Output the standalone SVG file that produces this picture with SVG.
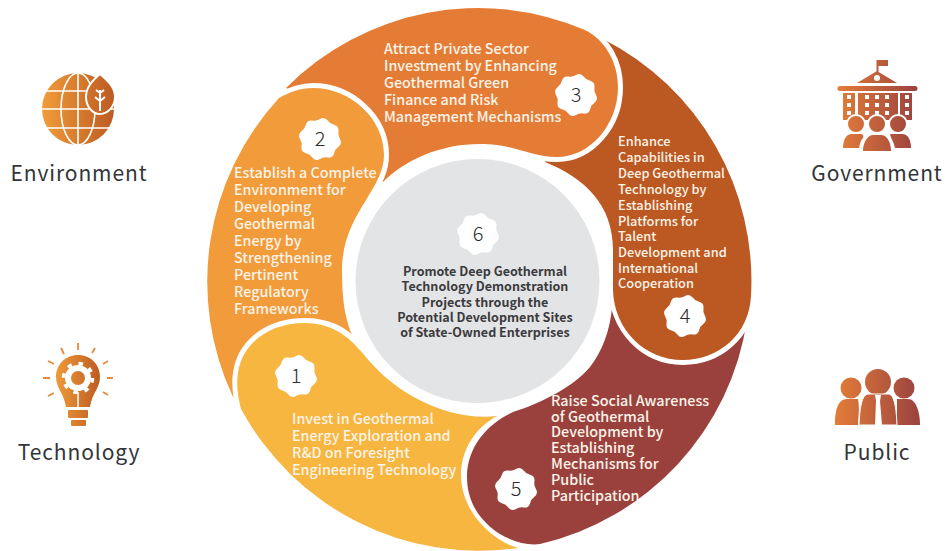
<svg xmlns="http://www.w3.org/2000/svg" width="947" height="551" viewBox="0 0 947 551">
<style>
text{font-family:"Noto Sans CJK SC","Noto Sans",sans-serif}
.t{fill:#fdf3e7;font-size:14.3px;font-weight:500}
.s{font-size:12.8px}
.m{font-size:14.35px}
.c{fill:#3b3b3d;font-size:12.55px;font-weight:700;text-anchor:middle}
.n{fill:#2b2b2b;font-size:20px;font-weight:300;text-anchor:middle}
.l{fill:#333538;font-size:21px;letter-spacing:.9px;text-anchor:middle}
.gap{fill:none;stroke:#fff;stroke-width:10}
.w{fill:none;stroke:#fff;stroke-width:1.6}
.b{fill:#fff}
</style>
<defs>
<path id="star" fill="#fff" d="M20,0Q22.56,4.49 18.48,7.65Q14.97,10 14.14,14.14Q12.78,19.12 7.65,18.48Q3.51,17.65 0,20Q-4.49,22.56 -7.65,18.48Q-10,14.97 -14.14,14.14Q-19.12,12.78 -18.48,7.65Q-17.65,3.51 -20,0Q-22.56,-4.49 -18.48,-7.65Q-14.97,-10 -14.14,-14.14Q-12.78,-19.12 -7.65,-18.48Q-3.51,-17.65 0,-20Q4.49,-22.56 7.65,-18.48Q10,-14.97 14.14,-14.14Q19.12,-12.78 18.48,-7.65Q17.65,-3.51 20,0Z"/>
<linearGradient id="gEnv" gradientUnits="userSpaceOnUse" x1="42" y1="0" x2="115" y2="0"><stop offset="0" stop-color="#F09C3A"/><stop offset="1" stop-color="#BC5A22"/></linearGradient>
<linearGradient id="gTech" gradientUnits="userSpaceOnUse" x1="55" y1="0" x2="101" y2="0"><stop offset="0" stop-color="#F09C3A"/><stop offset="1" stop-color="#BC5A22"/></linearGradient>
<linearGradient id="gGov" gradientUnits="userSpaceOnUse" x1="838" y1="0" x2="917" y2="0"><stop offset="0" stop-color="#E47D38"/><stop offset="1" stop-color="#9A4240"/></linearGradient>
<linearGradient id="gPub" gradientUnits="userSpaceOnUse" x1="835" y1="0" x2="920" y2="0"><stop offset="0" stop-color="#E47D38"/><stop offset="1" stop-color="#9A4240"/></linearGradient>
</defs>

<g id="seg5">
<path fill="#9A413E" d="M540,544C515,548 467,525 467,477C467,445 490,422 513,412C545,402 575,385 590,367C602,352 610,330 612,308L680,340L747,320A271,271 0 0 1 540,544Z"/>
</g>
<g id="seg4">
<path class="gap" d="M751,296C749,335 718,360 683,360C645,360 614,330 613,285"/>
<path fill="#BC5822" d="M603,39A271,271 0 0 1 751,296C749,335 718,360 683,360C645,360 614,330 613,290L613,250C613,205 585,178 545,162L570,100Z"/>
</g>
<g id="seg3">
<path class="gap" d="M585,30C605,40 618,62 618,87C618,125 590,157 557,157C535,157 522,150 505,147"/>
<path fill="#E57C36" d="M286,88A271,271 0 0 1 585,30C605,40 618,62 618,87C618,125 590,157 557,157C530,157 515,144 480,144C440,144 405,160 383,182L360,130Z"/>
</g>
<g id="seg2">
<path class="gap" d="M279,98C290,92 300,88 313,88C350,88 384,118 384,155C384,170 378,182 367,197"/>
<path fill="#F29B3A" d="M279,98C290,92 300,88 313,88C350,88 384,118 384,155C384,190 342,215 342,270C342,300 345,320 353,337L330,400L233,397A271,271 0 0 1 279,98Z"/>
</g>
<g id="seg1">
<path class="gap" d="M241,409C238,397 236,385 238,373C242,345 267,323 305,323C325,323 342,330 355,344"/>
<path fill="#F6B63F" d="M241,409C238,397 236,385 238,373C242,345 267,323 305,323C335,323 352,340 365,356C385,380 410,400 450,412C465,416 482,418 497,416C475,428 461,450 461,475C461,510 490,540 518,548A271,271 0 0 1 241,409Z"/>
</g>

<g id="node1">
<use href="#star" x="296" y="376"/>
<text class="n" x="296" y="383">1</text>
<text class="t"><tspan x="292" y="424">Invest in Geothermal</tspan><tspan x="292" y="441">Energy Exploration and</tspan><tspan x="292" y="458">R&amp;D on Foresight</tspan><tspan x="292" y="475">Engineering Technology</tspan></text>
</g>
<g id="node2">
<use href="#star" x="320" y="139"/>
<text class="n" x="320" y="146">2</text>
<text class="t"><tspan x="234" y="178">Establish a Complete</tspan><tspan x="234" y="195">Environment for</tspan><tspan x="234" y="212">Developing</tspan><tspan x="234" y="229">Geothermal</tspan><tspan x="234" y="246">Energy by</tspan><tspan x="234" y="263">Strengthening</tspan><tspan x="234" y="280">Pertinent</tspan><tspan x="234" y="297">Regulatory</tspan><tspan x="234" y="314">Frameworks</tspan></text>
</g>
<g id="node3">
<use href="#star" x="576" y="95"/>
<text class="n" x="576" y="102">3</text>
<text class="t"><tspan x="384" y="54">Attract Private Sector</tspan><tspan x="384" y="71">Investment by Enhancing</tspan><tspan x="384" y="88">Geothermal Green</tspan><tspan x="384" y="105">Finance and Risk</tspan><tspan x="384" y="122">Management Mechanisms</tspan></text>
</g>
<g id="node4">
<use href="#star" x="685" y="316"/>
<text class="n" x="685" y="323">4</text>
<text class="t s"><tspan x="618" y="146">Enhance</tspan><tspan x="618" y="162">Capabilities in</tspan><tspan x="618" y="178">Deep Geothermal</tspan><tspan x="618" y="194">Technology by</tspan><tspan x="618" y="210">Establishing</tspan><tspan x="618" y="226">Platforms for</tspan><tspan x="618" y="241">Talent</tspan><tspan x="618" y="257">Development and</tspan><tspan x="618" y="273">International</tspan><tspan x="618" y="288">Cooperation</tspan></text>
</g>
<g id="node5">
<use href="#star" x="516" y="489"/>
<text class="n" x="516" y="496">5</text>
<text class="t m"><tspan x="551" y="406">Raise Social Awareness</tspan><tspan x="551" y="422">of Geothermal</tspan><tspan x="551" y="437">Development by</tspan><tspan x="551" y="453">Establishing</tspan><tspan x="551" y="469">Mechanisms for</tspan><tspan x="551" y="485">Public</tspan><tspan x="551" y="501">Participation</tspan></text>
</g>
<g id="node6">
<circle cx="477.5" cy="281" r="122" fill="#E3E4E6"/>
<use href="#star" x="478" y="234"/>
<text class="n" x="478" y="241">6</text>
<text class="c"><tspan x="485" y="276">Promote Deep Geothermal</tspan><tspan x="485" y="291">Technology Demonstration</tspan><tspan x="485" y="307">Projects through the</tspan><tspan x="485" y="322">Potential Development Sites</tspan><tspan x="485" y="337">of State-Owned Enterprises</tspan></text>
</g>

<g id="environment">
<circle cx="78" cy="109" r="36" fill="url(#gEnv)"/>
<path class="w" d="M42,91H114M42,109H114M45,128H111M78,73V145"/>
<ellipse class="w" cx="78" cy="109" rx="17" ry="36"/>
<path fill="url(#gEnv)" stroke="#fff" stroke-width="2" d="M100,74C93,80 86,87 86,97C86,106 92,114 100,114C108,114 115,106 115,97C115,87 107,80 100,74Z"/>
<path fill="none" stroke="#fff" stroke-width="2" d="M100,111V90M100,101L95,97M100,101L105,97M100,93L96,90M100,93L104,90"/>
<text class="l" x="79" y="181">Environment</text>
</g>
<g id="technology">
<path fill="url(#gTech)" d="M78,355C65,355 56,365 56,377C56,388 64,393 66,407H90C92,393 100,388 100,377C100,365 91,355 78,355Z"/>
<rect x="68" y="410" width="20" height="8" rx="1" fill="url(#gTech)"/>
<rect x="71" y="420" width="15" height="6" rx="1" fill="url(#gTech)"/>
<circle cx="78" cy="378" r="10" fill="none" stroke="#fff" stroke-width="6"/>
<circle cx="78" cy="378" r="14.5" fill="none" stroke="#fff" stroke-width="3.5" stroke-dasharray="4.5 6.9"/>
<path fill="none" stroke="#fff" stroke-width="1.5" d="M78,392V407"/>
<path fill="none" stroke="#E8883A" stroke-width="1.8" d="M78,343V350M61,348L64,354M95,348L92,353M48,361L54,364M108,361L103,364M43,378H50M107,378H113M48,396L54,393M108,395L103,392"/>
<text class="l" x="79" y="460">Technology</text>
</g>
<g id="government">
<path fill="url(#gGov)" d="M876.5,60H888V66H878.5V73H876.5ZM857,83L877,71L897,83ZM840,86H915A2.5,2.5 0 0 1 915,91H840A2.5,2.5 0 0 1 840,86ZM843,93H855V120H843ZM858,93H898V120H858ZM900,93H912V120H900Z"/>
<circle cx="877" cy="78" r="3" class="b"/>
<path class="b" d="M847,95h4v4h-4zM847,103h4v4h-4zM847,111h4v4h-4zM905,95h4v4h-4zM905,103h4v4h-4zM905,111h4v4h-4zM865,95h4v4h-4zM875,95h4v4h-4zM885,95h4v4h-4zM865,103h4v4h-4zM875,103h4v4h-4zM885,103h4v4h-4zM865,111h4v4h-4zM875,111h4v4h-4zM885,111h4v4h-4z"/>
<g fill="url(#gGov)" stroke="#fff" stroke-width="2">
<circle cx="856" cy="124" r="9"/><circle cx="898" cy="124" r="9"/><circle cx="877" cy="124" r="9"/>
</g>
<path fill="url(#gGov)" d="M843,148C843,140 846,134 852,134H860C863,134 864,136 863,138C860,141 860,145 859,148ZM890,134H902C908,134 911,140 911,148H895C894,142 891,139 890,134ZM863,151C863,142 868,135 873,135H881C887,135 891,142 891,151Z"/>
<text class="l" x="877" y="181">Government</text>
</g>
<g id="public">
<circle cx="851" cy="388" r="10.5" fill="url(#gPub)"/>
<circle cx="904" cy="388" r="10.5" fill="url(#gPub)"/>
<path fill="url(#gPub)" d="M835,425C835,410 838,399 847,399H858C860,410 858,418 858,425ZM897,399H908C916,399 920,412 920,425H897Z"/>
<circle cx="878" cy="382" r="13" fill="url(#gPub)"/>
<path fill="url(#gPub)" stroke="#fff" stroke-width="1" d="M869,394H888C893,394 896,402 897,425H859C860,402 863,394 869,394Z"/>
<path class="b" d="M875,395H881L880,401L882,425H875L876,401Z"/>
<text class="l" x="877" y="460">Public</text>
</g>
</svg>
